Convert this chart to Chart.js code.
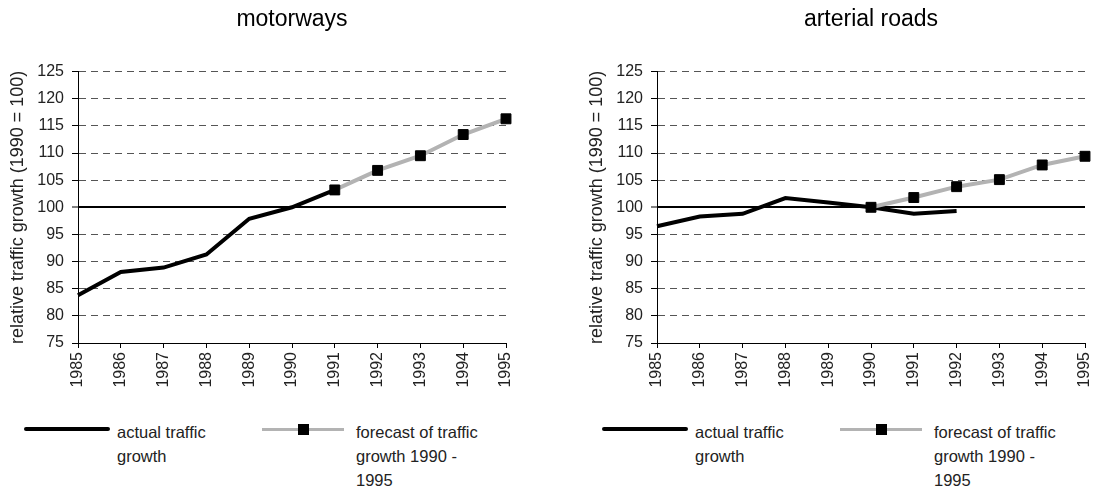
<!DOCTYPE html>
<html>
<head>
<meta charset="utf-8">
<script src="https://cdn.jsdelivr.net/npm/chart.js@4"></script>
<style>
	body { margin: 0; background: #fff; font-family: 'Liberation Sans', Arial, sans-serif; }
	#page { position: relative; width: 1093px; height: 488px; overflow: hidden; }
	canvas { position: absolute; top: 0; }
	.swatch { position: absolute; }
	.label { position: absolute; font-size: 16.5px; line-height: 24px; color: #222; }
</style>
</head>
<body>
<div id="page">
	<canvas id="leftChart" width="546" height="400" style="left:0"></canvas>
	<canvas id="rightChart" width="547" height="400" style="left:546px"></canvas>
</div>
<script>
// Data
const years = ['1985', '1986', '1987', '1988', '1989', '1990', '1991', '1992', '1993', '1994', '1995']
const motorwaysActual = [83.8, 88.1, 88.9, 91.3, 97.9, 100, 103.2, null, null, null, null]
const motorwaysForecast = [null, null, null, null, null, null, 103.2, 106.8, 109.5, 113.4, 116.3]
const arterialActual = [96.5, 98.3, 98.8, 101.7, 100.9, 100, 98.8, 99.3, null, null, null]
const arterialForecast = [null, null, null, null, null, 100, 101.8, 103.8, 105.1, 107.8, 109.4]
const seriesLabels = ['actual traffic growth', 'forecast of traffic growth 1990 - 1995']
const yMin = 75
const yMax = 125
const yStep = 5
const baseValue = 100

Chart.defaults.font.family = "'Liberation Sans', Arial, sans-serif"

function makeChart(id, title, actual, forecast, padLeft, padRight) {
	const ctx = document.getElementById(id).getContext('2d')
	return new Chart(ctx, {
		type: 'line',
		data: {
			labels: years,
			datasets: [
				{
					label: seriesLabels[0],
					data: actual,
					borderColor: '#000',
					borderWidth: 4,
					pointRadius: 0,
					order: 1,
				},
				{
					label: seriesLabels[1],
					data: forecast,
					borderColor: '#b3b3b3',
					borderWidth: 4,
					pointStyle: 'rect',
					pointRadius: 7,
					pointBackgroundColor: '#000',
					pointBorderColor: '#000',
					pointBorderWidth: 1,
					order: 0,
				},
			],
		},
		options: {
			responsive: false,
			animation: false,
			devicePixelRatio: 1,
			layout: { padding: { left: padLeft, right: padRight, top: 0, bottom: 0 } },
			plugins: {
				legend: { display: false },
				tooltip: { enabled: false },
				title: {
					display: true,
					text: title,
					fullSize: false,
					color: '#000',
					font: { size: 23, weight: 'normal', lineHeight: 1.2 },
					padding: { top: 6, bottom: 38 },
				},
			},
			scales: {
				x: {
					grid: { drawOnChartArea: false, drawTicks: true, tickLength: 5, tickColor: '#000' },
					border: { color: '#000', width: 1 },
					ticks: {
						color: '#222',
						font: { size: 16, lineHeight: 1 },
						minRotation: 90,
						maxRotation: 90,
						padding: 4,
						autoSkip: false,
					},
					afterFit: function (scale) {
						scale.height = 57
						scale.paddingLeft = 0
						scale.paddingRight = 0
					},
				},
				y: {
					min: yMin,
					max: yMax,
					ticks: { stepSize: yStep, color: '#222', font: { size: 16 }, padding: 8 },
					grid: {
						color: (c) => (c.tick && c.tick.value === baseValue ? '#000' : '#555'),
						lineWidth: (c) => (c.tick && c.tick.value === baseValue ? 2 : 1),
						tickLength: 6,
						tickColor: '#000',
						tickWidth: 1,
					},
					border: {
						color: '#000',
						width: 1,
						dash: (c) => (c.tick && c.tick.value === baseValue ? [] : [7, 5]),
					},
					title: {
						display: true,
						text: 'relative traffic growth (1990 = 100)',
						color: '#222',
						font: { size: 18 },
						padding: { top: 7, bottom: 0 },
					},
					afterFit: function (scale) {
						scale.width = 78
						scale.paddingTop = 0
						scale.paddingBottom = 0
					},
				},
			},
		},
	})
}

// HTML legend built from the chart datasets
function addLegend(chart, offsetX) {
	const page = document.getElementById('page')
	const spots = [
		{ lineLeft: 24, lineWidth: 86, textLeft: 117, textWidth: 100 },
		{ lineLeft: 262, lineWidth: 82, textLeft: 356, textWidth: 130 },
	]
	chart.data.datasets.forEach(function (ds, i) {
		const s = spots[i]
		const line = document.createElement('div')
		line.className = 'swatch'
		const h = i === 0 ? 4 : 3
		line.style.cssText = 'left:' + (offsetX + s.lineLeft) + 'px;top:' + (429 - h / 2) + 'px;width:' +
			s.lineWidth + 'px;height:' + h + 'px;background:' + ds.borderColor + ';border-radius:' + (i === 0 ? 2 : 0) + 'px'
		page.appendChild(line)
		if (ds.pointStyle === 'rect') {
			const sq = document.createElement('div')
			sq.className = 'swatch'
			sq.style.cssText = 'left:' + (offsetX + s.lineLeft + s.lineWidth / 2 - 5.5) + 'px;top:423.5px;width:11px;height:11px;background:' + ds.pointBackgroundColor
			page.appendChild(sq)
		}
		const txt = document.createElement('div')
		txt.className = 'label'
		txt.textContent = ds.label
		txt.style.left = offsetX + s.textLeft + 'px'
		txt.style.top = '420px'
		txt.style.width = s.textWidth + 'px'
		page.appendChild(txt)
	})
}

const leftChart = makeChart('leftChart', 'motorways', motorwaysActual, motorwaysForecast, 0, 40)
const rightChart = makeChart('rightChart', 'arterial roads', arterialActual, arterialForecast, 33, 7)
addLegend(leftChart, 0)
addLegend(rightChart, 578)
</script>
</body>
</html>
